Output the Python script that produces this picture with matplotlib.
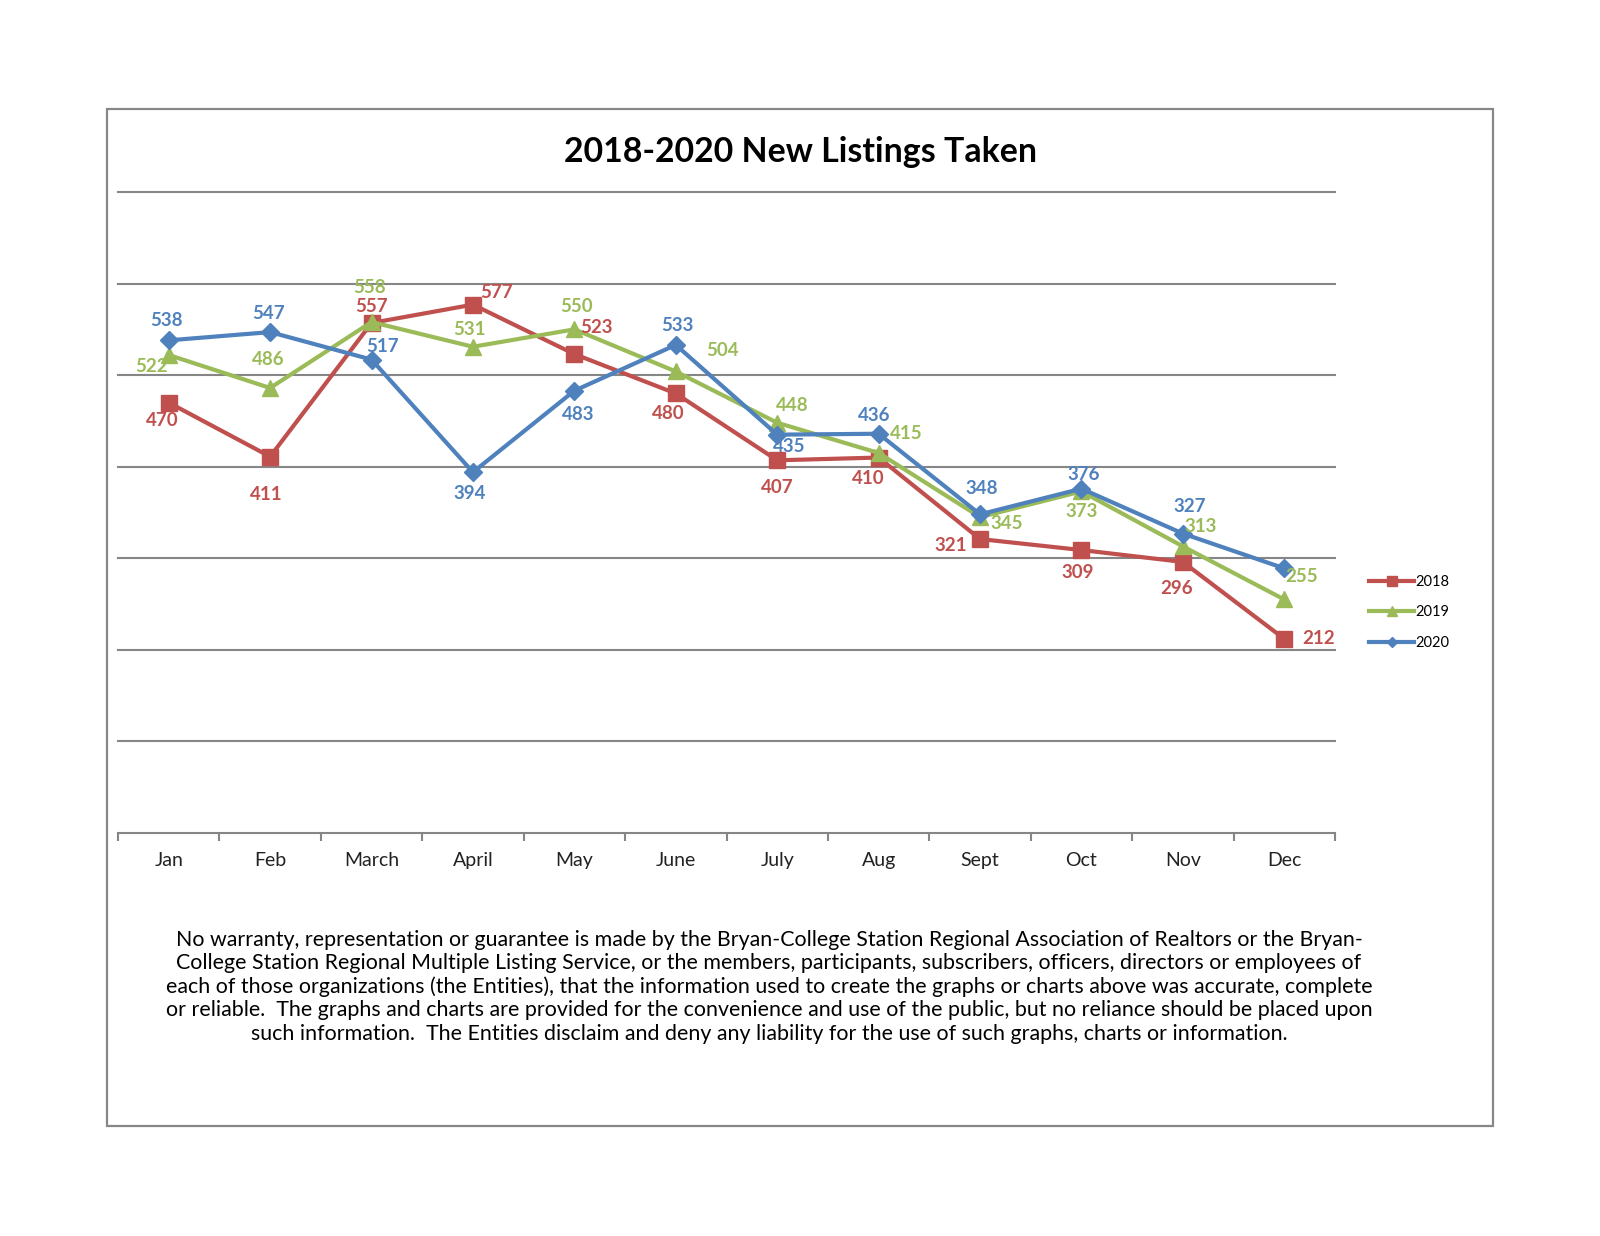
import matplotlib
matplotlib.use("Agg")
import matplotlib.pyplot as plt
from matplotlib.patches import Rectangle
from matplotlib.lines import Line2D

months = ["Jan", "Feb", "March", "April", "May", "June", "July", "Aug", "Sept", "Oct", "Nov", "Dec"]
series_names = ["2018", "2019", "2020"]
v2018 = [470, 411, 557, 577, 523, 480, 407, 410, 321, 309, 296, 212]
v2019 = [522, 486, 558, 531, 550, 504, 448, 415, 345, 373, 313, 255]
v2020 = [538, 547, 517, 394, 483, 533, 435, 436, 348, 376, 327, 289]
show2020 = [True] * 11 + [False]

title = "2018-2020 New Listings Taken"
disclaimer = [
    "No warranty, representation or guarantee is made by the Bryan-College Station Regional Association of Realtors or the Bryan-",
    "College Station Regional Multiple Listing Service, or the members, participants, subscribers, officers, directors or employees of",
    "each of those organizations (the Entities), that the information used to create the graphs or charts above was accurate, complete",
    "or reliable.  The graphs and charts are provided for the convenience and use of the public, but no reliance should be placed upon",
    "such information.  The Entities disclaim and deny any liability for the use of such graphs, charts or information.",
]

# label offsets in pixels (dx, dy up)
off2018 = [(-6, -18), (-4, -38), (0, 16), (24, 12), (22, 27), (-8, -20), (0, -27), (-10, -21), (-29, -6), (-4, -22), (-6, -27), (34, 0)]
off2019 = [(-17, -12), (-2, 28), (-2, 35), (-4, 17), (2, 23), (47, 21), (15, 17), (28, 19), (27, -6), (0, -20), (18, 20), (17, 23)]
off2020 = [(-2, 20), (-2, 19), (11, 13), (-3, -21), (4, -24), (2, 19), (12, -12), (-4, 18), (2, 26), (2, 14), (7, 27), (0, 0)]

RED = "#C0504D"
GREEN = "#9BBB59"
BLUE = "#4F81BD"
GRID = "#868686"
FONT = "Lato"

fig = plt.figure(figsize=(16, 12.36), dpi=100)
fig.patch.set_facecolor("white")

fig.patches.append(Rectangle((107 / 1600, 110 / 1236), 1386 / 1600, 1017 / 1236,
                             transform=fig.transFigure, fill=False,
                             edgecolor="#878787", linewidth=1.6))

ax = fig.add_axes([118 / 1600, 403 / 1236, 1217 / 1600, 641 / 1236])
ax.set_xlim(-0.5, 11.5)
ax.set_ylim(0, 700)
x = list(range(len(months)))

for yv in range(100, 701, 100):
    ax.axhline(yv, color=GRID, linewidth=1.5, zorder=1, clip_on=False)

specs = [
    (v2018, RED, "s", 12, off2018, [True] * 12),
    (v2019, GREEN, "^", 12, off2019, [True] * 12),
    (v2020, BLUE, "D", 9, off2020, show2020),
]
handles = []
for (vals, col, mk, ms, offs, shows), name in zip(specs, series_names):
    ax.plot(x, vals, color=col, linewidth=3, marker=mk, markersize=ms,
            zorder=3, clip_on=False)
    for xi, v, (dx, dy), s in zip(x, vals, offs, shows):
        if s:
            ax.annotate(str(v), (xi, v), xytext=(dx, dy), textcoords="offset pixels",
                        ha="center", va="center", color=col, fontsize=13.5,
                        fontweight="bold", family=FONT, zorder=5)
    handles.append(Line2D([0], [0], color=col, linewidth=3, marker=mk,
                          markersize=ms * 0.55, label=name))

for sp in ["top", "left", "right"]:
    ax.spines[sp].set_visible(False)
ax.spines["bottom"].set_color(GRID)
ax.spines["bottom"].set_linewidth(1.5)
ax.set_yticks([])
ax.set_xticks([i + 0.5 for i in range(-1, 12)])
ax.set_xticks(x, minor=True)
ax.set_xticklabels([])
ax.set_xticklabels(months, minor=True, family=FONT, fontsize=14, color="#222222")
ax.tick_params(axis="x", which="major", length=6, width=1.5, color=GRID, direction="out")
ax.tick_params(axis="x", which="minor", length=0, pad=14)

leg = fig.legend(handles=handles, loc="upper left",
                 bbox_to_anchor=(1369 / 1600, 1 - 575 / 1236),
                 frameon=False, prop={"family": FONT, "size": 10.5},
                 handlelength=3.1, handletextpad=0.1, labelspacing=1.12,
                 borderaxespad=0, borderpad=0)

fig.text(0.5, 1 - 152 / 1236, title, ha="center", va="center",
         fontsize=24.4, fontweight="bold", family=FONT, color="black")

ys = [940, 963, 987, 1010, 1034]
for line, yy in zip(disclaimer, ys):
    fig.text(769 / 1600, 1 - yy / 1236, line, ha="center", va="center",
             fontsize=15.4, family=FONT, color="black")

fig.savefig("out.png", dpi=100, facecolor="white")
